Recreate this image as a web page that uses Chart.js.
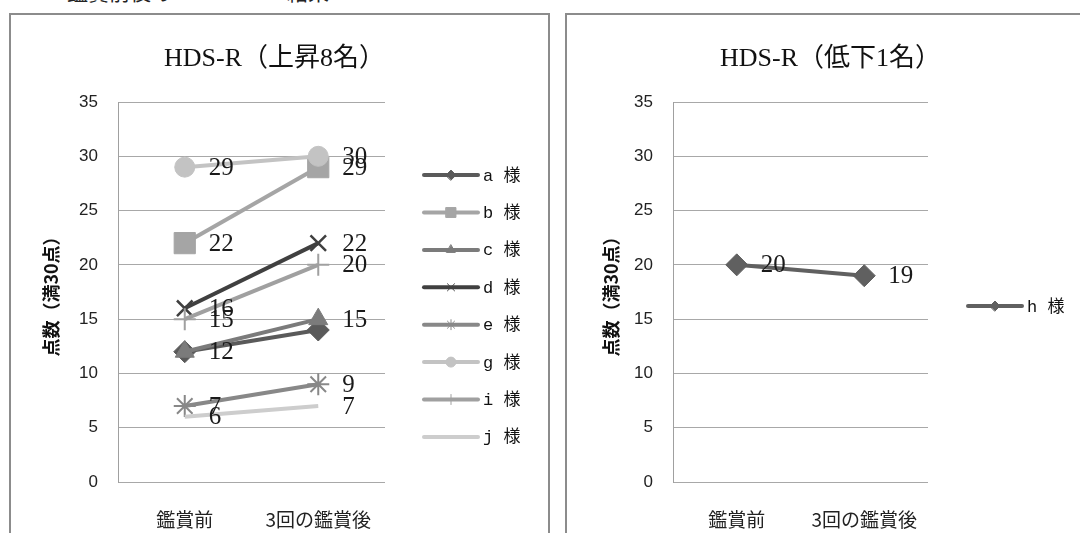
<!DOCTYPE html>
<html>
<head>
<meta charset="utf-8">
<script src="https://cdn.jsdelivr.net/npm/chart.js@4.4.1/dist/chart.umd.min.js"></script>
<style>
  html, body { margin: 0; padding: 0; background: #fff; }
  body { width: 1080px; height: 533px; overflow: hidden; position: relative; font-family: "Noto Sans CJK JP", sans-serif; }
  .heading { position: absolute; top: -19px; left: 0; font-size: 21px; line-height: 21px; color: #222; white-space: nowrap; }
  .heading span { position: absolute; top: 0; }
  .box { position: absolute; top: 13px; width: 537px; height: 540px; border: 2px solid #8c8c8c; background: #fff; }
  #boxUp { left: 9px; }
  #boxDown { left: 565px; }
  .box canvas { position: absolute; left: 0; top: 0; }
</style>
</head>
<body>
<div class="heading"><span style="left:0">2</span><span style="left:67px">鑑賞前後の</span><span style="left:175px">HDS-R</span><span style="left:287px">結果</span></div>
<div class="box" id="boxUp"><canvas id="chartUp" width="537" height="518"></canvas></div>
<div class="box" id="boxDown"><canvas id="chartDown" width="537" height="518"></canvas></div>
<script>
// categories and tick values
const categories = ['鑑賞前', '3回の鑑賞後'];
const yTickValues = [0, 5, 10, 15, 20, 25, 30, 35];

// chart titles and axis title
const titleUp = 'HDS-R（上昇8名）';
const titleDown = 'HDS-R（低下1名）';
const yAxisTitle = '点数（満30点）';

// series names
const namesUp = ['a 様', 'b 様', 'c 様', 'd 様', 'e 様', 'g 様', 'i 様', 'j 様'];
const namesDown = ['h 様'];

// scores before / after three sessions
const scoresA = [12, 14];
const scoresB = [22, 29];
const scoresC = [12, 15];
const scoresD = [16, 22];
const scoresE = [7, 9];
const scoresG = [29, 30];
const scoresI = [15, 20];
const scoresJ = [6, 7];
const scoresH = [20, 19];

const CJK = '"Noto Sans CJK JP"';
const SERIF_FONT = '"Liberation Serif", ' + CJK;

// value labels beside each point
const valueLabels = {
  id: 'valueLabels',
  afterDatasetsDraw(chart) {
    const ctx = chart.ctx;
    ctx.save();
    ctx.font = '25px "Liberation Serif"';
    ctx.fillStyle = '#1a1a1a';
    ctx.textAlign = 'left';
    ctx.textBaseline = 'middle';
    chart.data.datasets.forEach((ds, i) => {
      if (ds.showValues === false) return;
      const meta = chart.getDatasetMeta(i);
      meta.data.forEach((pt, j) => {
        ctx.fillText(String(ds.data[j]), pt.x + 24, pt.y + 1);
      });
    });
    ctx.restore();
  }
};

// chart title drawn above the plot
const topTitle = {
  id: 'topTitle',
  afterDraw(chart, args, opts) {
    const ctx = chart.ctx;
    ctx.save();
    ctx.font = '26px ' + SERIF_FONT;
    ctx.fillStyle = '#111';
    ctx.textAlign = 'center';
    ctx.textBaseline = 'middle';
    ctx.fillText(opts.text, chart.width / 2 - 5, opts.y);
    ctx.restore();
  }
};

// legend: line sample with marker, then series name
const sideLegend = {
  id: 'sideLegend',
  afterDraw(chart, args, opts) {
    const ctx = chart.ctx;
    const sets = chart.data.datasets;
    const y0 = opts.centerY - (sets.length - 1) * opts.step / 2;
    ctx.save();
    sets.forEach((ds, i) => {
      const y = y0 + i * opts.step;
      ctx.strokeStyle = ds.borderColor;
      ctx.lineWidth = 4;
      ctx.lineCap = 'round';
      ctx.beginPath();
      ctx.moveTo(opts.x, y);
      ctx.lineTo(opts.x + 54, y);
      ctx.stroke();
      if (ds.pointRadius > 0) {
        ctx.fillStyle = ds.borderColor;
        ctx.strokeStyle = ds.borderColor;
        ctx.lineWidth = 1;
        Chart.helpers.drawPoint(ctx, {
          pointStyle: ds.pointStyle,
          rotation: 0,
          radius: ds.pointStyle === 'rect' ? 7 : 5,
          borderWidth: 1
        }, opts.x + 27, y);
      }
      ctx.fillStyle = '#111';
      ctx.font = '17px "Liberation Mono", ' + CJK;
      ctx.textAlign = 'left';
      ctx.textBaseline = 'middle';
      ctx.fillText(ds.label, opts.x + 59, y + 1);
    });
    ctx.restore();
  }
};

function series(label, data, color, style, radius, extra) {
  return Object.assign({
    label: label,
    data: data,
    borderColor: color,
    backgroundColor: color,
    pointBackgroundColor: color,
    pointBorderColor: color,
    borderWidth: 4,
    pointStyle: style,
    pointRadius: radius,
    pointBorderWidth: 1,
    tension: 0
  }, extra || {});
}

function options(cfg) {
  return {
    responsive: false,
    animation: false,
    devicePixelRatio: 1,
    events: [],
    layout: { padding: { top: 87, right: cfg.padRight, bottom: 0, left: 0 } },
    plugins: {
      legend: { display: false },
      title: { display: false },
      tooltip: { enabled: false },
      topTitle: { text: cfg.title, y: 44 },
      sideLegend: { x: cfg.legendX, centerY: 291, step: cfg.step }
    },
    scales: {
      x: {
        offset: true,
        grid: { display: false, drawTicks: false },
        border: { display: false },
        ticks: { color: '#222', padding: 26, font: { family: CJK, size: 19 } },
        afterFit(s) { s.height = 51; }
      },
      y: {
        min: 0,
        max: 35,
        afterBuildTicks(s) { s.ticks = yTickValues.map(v => ({ value: v })); },
        grid: { color: '#a8a8a8', lineWidth: 1, drawTicks: false },
        border: { display: true, color: '#a0a0a0', width: 1 },
        ticks: { color: '#222', padding: 20, font: { family: '"Liberation Sans"', size: 17 } },
        title: {
          display: true,
          text: yAxisTitle,
          color: '#111',
          font: { family: CJK, size: 18, weight: 'bold' },
          padding: { top: cfg.titlePad, bottom: 0 }
        },
        afterFit(s) { s.width = cfg.axisWidth; }
      }
    }
  };
}

const upSets = [
  series(namesUp[0], scoresA, '#5a5a5a', 'rectRot', 11, { showValues: false }),
  series(namesUp[1], scoresB, '#a5a5a5', 'rect', 15),
  series(namesUp[2], scoresC, '#7b7b7b', 'triangle', 11),
  series(namesUp[3], scoresD, '#404040', 'crossRot', 11, { pointBorderWidth: 2.5 }),
  series(namesUp[4], scoresE, '#888888', 'star', 11, { pointBorderWidth: 2 }),
  series(namesUp[5], scoresG, '#c3c3c3', 'circle', 10),
  series(namesUp[6], scoresI, '#a0a0a0', 'cross', 11, { pointBorderWidth: 2 }),
  series(namesUp[7], scoresJ, '#cdcdcd', 'circle', 0)
];
// later series sit on top of earlier ones
upSets.forEach((ds, i) => { ds.order = upSets.length - i; });

new Chart(document.getElementById('chartUp'), {
  type: 'line',
  data: { labels: categories, datasets: upSets },
  options: options({ title: titleUp, padRight: 163, legendX: 413, step: 37.4, titlePad: 29, axisWidth: 107 }),
  plugins: [valueLabels, topTitle, sideLegend]
});

new Chart(document.getElementById('chartDown'), {
  type: 'line',
  data: {
    labels: categories,
    datasets: [series(namesDown[0], scoresH, '#606060', 'rectRot', 11)]
  },
  options: options({ title: titleDown, padRight: 176, legendX: 401, step: 37.4, titlePad: 33, axisWidth: 106 }),
  plugins: [valueLabels, topTitle, sideLegend]
});
</script>
</body>
</html>
